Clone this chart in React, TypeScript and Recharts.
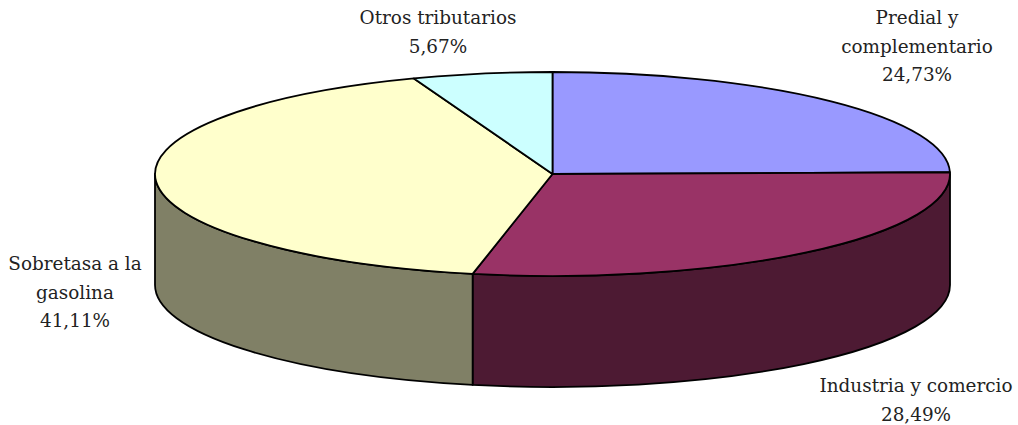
import { PieChart, Pie } from 'recharts'

const categories = ['Predial y complementario', 'Industria y comercio', 'Sobretasa a la gasolina', 'Otros tributarios']
const shares = [24.73, 28.49, 41.11, 5.67]
const shareLabels = ['24,73%', '28,49%', '41,11%', '5,67%']
const labelLines = [['Predial y', 'complementario'], ['Industria y comercio'], ['Sobretasa a la', 'gasolina'], ['Otros tributarios']]

const topColors = ['#9999FF', '#993366', '#FFFFCC', '#CCFFFF']
const sideColors = ['#4D1A33', '#4D1A33', '#808066', '#668080']

const chartData = categories.map((name, i) => ({ name, value: shares[i], index: i }))

// pie is drawn flat by recharts, then squashed here to fake the 3d look
const CX = 552.5
const CY = 174
const RX = 397.5
const RY = 102
const DEPTH = 111

// centre x and first baseline of each label
const labelAnchors = [
  { x: 917, y: 24 },
  { x: 916, y: 392 },
  { x: 75, y: 270 },
  { x: 438, y: 24 },
]

const rad = (deg: number) => (deg * Math.PI) / 180
const px = (a: number) => CX + RX * Math.cos(rad(a))
const py = (a: number) => CY - RY * Math.sin(rad(a))

function TopSlice(props: any) {
  const { startAngle, endAngle, payload } = props
  const large = Math.abs(startAngle - endAngle) > 180 ? 1 : 0
  const d = `M${CX},${CY} L${px(startAngle)},${py(startAngle)} A${RX},${RY} 0 ${large} 1 ${px(endAngle)},${py(endAngle)} Z`
  return <path d={d} fill={topColors[payload.index]} stroke="#000" strokeWidth={1.8} strokeLinejoin="round" />
}

function WallSlice(props: any) {
  const { startAngle, endAngle, payload } = props
  // only the front half of the rim can be seen
  const s = Math.min(startAngle, 0)
  const e = Math.max(endAngle, -180)
  if (s <= e) return <g />
  const d = `M${px(s)},${py(s)} A${RX},${RY} 0 0 1 ${px(e)},${py(e)} L${px(e)},${py(e) + DEPTH} A${RX},${RY} 0 0 0 ${px(s)},${py(s) + DEPTH} Z`
  return <path d={d} fill={sideColors[payload.index]} stroke="#000" strokeWidth={1.8} strokeLinejoin="round" />
}

function SliceLabel(props: any) {
  const i = props.index
  const a = labelAnchors[i]
  const lines = [...labelLines[i], shareLabels[i]]
  return (
    <text textAnchor="middle" fontFamily="'DejaVu Serif'" fontSize={18.4} fill="#222">
      {lines.map((l, n) => (
        <tspan key={l} x={a.x} y={a.y + n * 28.5}>
          {l}
        </tspan>
      ))}
    </text>
  )
}

export default function App() {
  return (
    <div style={{ position: 'absolute', left: 0, top: 0, width: 1018, height: 425 }}>
      <PieChart width={1018} height={425} margin={{ top: 0, right: 0, bottom: 0, left: 0 }}>
        <Pie
          data={chartData}
          dataKey="value"
          cx={CX}
          cy={CY}
          outerRadius={RX}
          startAngle={90}
          endAngle={-270}
          shape={WallSlice}
          isAnimationActive={false}
        />
        <Pie
          data={chartData}
          dataKey="value"
          cx={CX}
          cy={CY}
          outerRadius={RX}
          startAngle={90}
          endAngle={-270}
          shape={TopSlice}
          label={SliceLabel}
          labelLine={false}
          isAnimationActive={false}
        />
      </PieChart>
    </div>
  )
}
